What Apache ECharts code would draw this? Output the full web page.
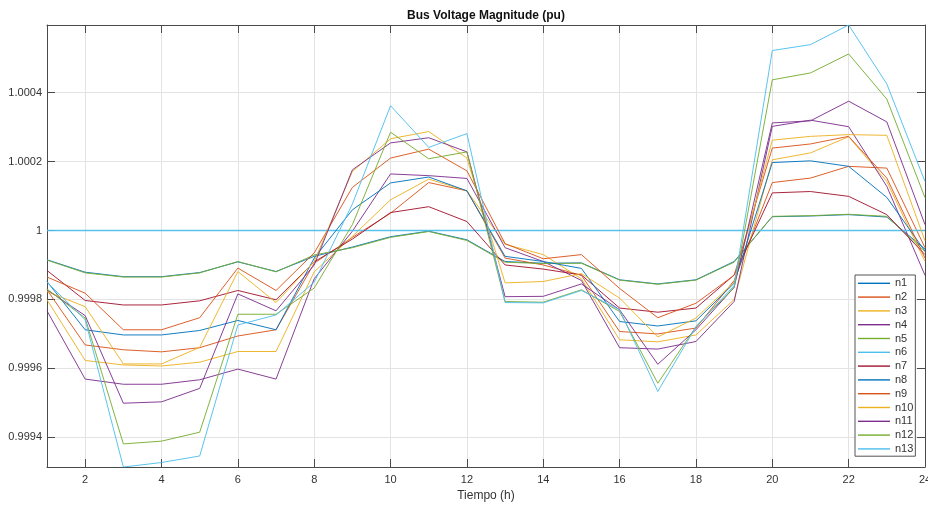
<!DOCTYPE html>
<html>
<head>
<meta charset="utf-8">
<script src="https://cdn.jsdelivr.net/npm/echarts@6/dist/echarts.min.js"></script>
<style>
  html, body { margin: 0; padding: 0; background: #ffffff; }
  #chart { width: 928px; height: 505px; }
</style>
</head>
<body>
<div id="chart"></div>
<script>
// Hour of day (x axis)
const hours = [1, 2, 3, 4, 5, 6, 7, 8, 9, 10, 11, 12, 13, 14, 15, 16, 17, 18, 19, 20, 21, 22, 23, 24];

// Bus voltage magnitude per node (pu), one value per hour
const n1  = [0.999915, 0.999879, 0.999866, 0.999866, 0.999878, 0.999909, 0.999881, 0.999925, 0.999952, 0.999982, 0.999998, 0.999973, 0.999910, 0.999905, 0.999906, 0.999857, 0.999845, 0.999857, 0.999910, 1.000040, 1.000042, 1.000046, 1.000039, 0.999946];
const n2  = [0.999828, 0.999668, 0.999654, 0.999648, 0.999660, 0.999694, 0.999712, 0.999905, 0.999980, 1.000050, 1.000139, 1.000115, 0.999920, 0.999900, 0.999870, 0.999707, 0.999700, 0.999717, 0.999855, 1.000139, 1.000152, 1.000186, 1.000181, 0.999950];
const n3  = [0.999799, 0.999623, 0.999610, 0.999607, 0.999618, 0.999649, 0.999649, 0.999880, 0.999983, 1.000089, 1.000149, 1.000115, 0.999960, 0.999930, 0.999860, 0.999683, 0.999677, 0.999697, 0.999800, 1.000205, 1.000225, 1.000272, 1.000142, 0.999910];
const n4  = [0.999767, 0.999569, 0.999554, 0.999554, 0.999567, 0.999598, 0.999569, 0.999860, 0.999998, 1.000164, 1.000159, 1.000151, 0.999950, 0.999910, 0.999855, 0.999660, 0.999656, 0.999678, 0.999794, 1.000302, 1.000320, 1.000301, 1.000128, 0.999870];
const n5  = [0.999914, 0.999877, 0.999865, 0.999865, 0.999877, 0.999910, 0.999880, 0.999929, 0.999950, 0.999980, 0.999997, 0.999971, 0.999908, 0.999904, 0.999905, 0.999856, 0.999844, 0.999856, 0.999908, 1.000041, 1.000043, 1.000047, 1.000041, 0.999939];
const n6  = [1, 1, 1, 1, 1, 1, 1, 1, 1, 1, 1, 1, 1, 1, 1, 1, 1, 1, 1, 1, 1, 1, 1, 1];
const n7  = [0.999884, 0.999797, 0.999784, 0.999784, 0.999796, 0.999826, 0.999799, 0.999909, 0.999975, 1.000052, 1.000069, 1.000026, 0.999900, 0.999888, 0.999871, 0.999775, 0.999763, 0.999775, 0.999871, 1.000109, 1.000113, 1.000099, 1.000046, 0.999930];
const n8  = [0.999852, 0.999712, 0.999697, 0.999697, 0.999710, 0.999739, 0.999712, 0.999920, 1.000060, 1.000138, 1.000155, 1.000115, 0.999925, 0.999910, 0.999890, 0.999736, 0.999723, 0.999738, 0.999847, 1.000197, 1.000202, 1.000186, 1.000096, 0.999940];
const n9  = [0.999865, 0.999818, 0.999712, 0.999712, 0.999747, 0.999891, 0.999826, 0.999935, 1.000125, 1.000210, 1.000236, 1.000173, 0.999962, 0.999918, 0.999930, 0.999832, 0.999747, 0.999789, 0.999870, 1.000239, 1.000251, 1.000273, 1.000152, 0.999920];
const n10 = [0.999823, 0.999779, 0.999613, 0.999613, 0.999661, 0.999881, 0.999791, 0.999910, 1.000171, 1.000266, 1.000287, 1.000210, 0.999848, 0.999852, 0.999875, 0.999804, 0.999691, 0.999746, 0.999850, 1.000262, 1.000273, 1.000278, 1.000276, 0.999970];
const n11 = [0.999828, 0.999753, 0.999499, 0.999503, 0.999542, 0.999816, 0.999767, 0.999900, 1.000176, 1.000254, 1.000269, 1.000228, 0.999808, 0.999809, 0.999845, 0.999770, 0.999612, 0.999712, 0.999835, 1.000312, 1.000318, 1.000375, 1.000315, 1.000017];
const n12 = [0.999830, 0.999746, 0.999381, 0.999389, 0.999415, 0.999757, 0.999757, 0.999833, 1.000017, 1.000285, 1.000208, 1.000228, 0.999794, 0.999792, 0.999828, 0.999765, 0.999557, 0.999721, 0.999835, 1.000437, 1.000457, 1.000512, 1.000381, 1.000095];
const n13 = [0.999850, 0.999741, 0.999314, 0.999327, 0.999346, 0.999726, 0.999755, 0.999850, 1.000077, 1.000362, 1.000241, 1.000281, 0.999791, 0.999790, 0.999826, 0.999770, 0.999533, 0.999721, 0.999840, 1.000522, 1.000539, 1.000596, 1.000425, 1.000142];

const nodeNames = ['n1', 'n2', 'n3', 'n4', 'n5', 'n6', 'n7', 'n8', 'n9', 'n10', 'n11', 'n12', 'n13'];
const nodeValues = [n1, n2, n3, n4, n5, n6, n7, n8, n9, n10, n11, n12, n13];

// Tick positions and axis limits
const xTicks = [2, 4, 6, 8, 10, 12, 14, 16, 18, 20, 22, 24];
const yTicks = [0.9994, 0.9996, 0.9998, 1, 1.0002, 1.0004];
const yMin = 0.999314;
const yMax = 1.000596;

// MATLAB-style default colour order
const lineColors = ['#0072BD', '#D95319', '#EDB120', '#7E2F8E', '#77AC30', '#4DBEEE', '#A2142F'];

const FONT = "'Liberation Sans', Arial, Helvetica, sans-serif";
const AXIS_COLOR = '#4a4a4a';
const GRID_COLOR = '#e3e3e3';
const TEXT_COLOR = '#333333';

const chart = echarts.init(document.getElementById('chart'), null, { renderer: 'canvas' });

const series = nodeNames.map((name, i) => ({
  name: name,
  type: 'line',
  xAxisIndex: 0,
  yAxisIndex: 0,
  data: hours.map((h, k) => [h, nodeValues[i][k]]),
  symbol: 'none',
  showSymbol: false,
  animation: false,
  lineStyle: { width: name === 'n6' ? 1.6 : 1, color: lineColors[i % lineColors.length], opacity: 0.92 },
  itemStyle: { color: lineColors[i % lineColors.length] },
  emphasis: { disabled: true }
}));

const baseTick = { show: true, inside: true, length: 8, lineStyle: { color: AXIS_COLOR, width: 1 } };

chart.setOption({
  animation: false,
  backgroundColor: '#ffffff',
  textStyle: { fontFamily: FONT },
  grid: { left: 47, top: 25, width: 878, height: 442, containLabel: false, outerBoundsMode: 'none' },
  graphic: [{
    type: 'text',
    x: 486,
    y: 16,
    style: {
      text: 'Bus Voltage Magnitude (pu)',
      font: 'bold 12px ' + FONT,
      fill: '#111111',
      textAlign: 'center',
      textVerticalAlign: 'middle'
    }
  }],
  legend: {
    orient: 'vertical',
    left: 855,
    top: 275,
    padding: [2, 2, 1, 3],
    icon: 'rect',
    itemWidth: 32,
    itemHeight: 1.4,
    itemGap: 1.2,
    backgroundColor: '#ffffff',
    borderColor: '#555555',
    borderWidth: 1,
    textStyle: { fontFamily: FONT, fontSize: 11, color: TEXT_COLOR, lineHeight: 12.6 },
    data: nodeNames
  },
  xAxis: [{
    type: 'value',
    position: 'bottom',
    min: 1,
    max: 24,
    name: 'Tiempo (h)',
    nameLocation: 'middle',
    nameGap: 22,
    nameTextStyle: { fontFamily: FONT, fontSize: 12, color: TEXT_COLOR },
    axisLine: { show: true, onZero: false, lineStyle: { color: AXIS_COLOR, width: 1 } },
    axisTick: Object.assign({}, baseTick, { customValues: xTicks }),
    axisLabel: { customValues: xTicks, fontFamily: FONT, fontSize: 11, color: TEXT_COLOR, margin: 7 },
    splitLine: { show: true, lineStyle: { color: GRID_COLOR, width: 1 } }
  }, {
    type: 'value',
    position: 'top',
    min: 1,
    max: 24,
    axisLine: { show: true, onZero: false, lineStyle: { color: AXIS_COLOR, width: 1 } },
    axisTick: Object.assign({}, baseTick, { customValues: xTicks }),
    axisLabel: { show: false },
    splitLine: { show: false }
  }],
  yAxis: [{
    type: 'value',
    position: 'left',
    min: yMin,
    max: yMax,
    scale: true,
    axisLine: { show: true, onZero: false, lineStyle: { color: AXIS_COLOR, width: 1 } },
    axisTick: Object.assign({}, baseTick, { customValues: yTicks }),
    axisLabel: {
      customValues: yTicks,
      fontFamily: FONT, fontSize: 11, color: TEXT_COLOR, margin: 5,
      formatter: v => String(parseFloat(Number(v).toFixed(4)))
    },
    splitLine: { show: true, lineStyle: { color: GRID_COLOR, width: 1 } }
  }, {
    type: 'value',
    position: 'right',
    min: yMin,
    max: yMax,
    scale: true,
    axisLine: { show: true, onZero: false, lineStyle: { color: AXIS_COLOR, width: 1 } },
    axisTick: Object.assign({}, baseTick, { customValues: yTicks }),
    axisLabel: { show: false },
    splitLine: { show: false }
  }],
  series: series
});
</script>
</body>
</html>
